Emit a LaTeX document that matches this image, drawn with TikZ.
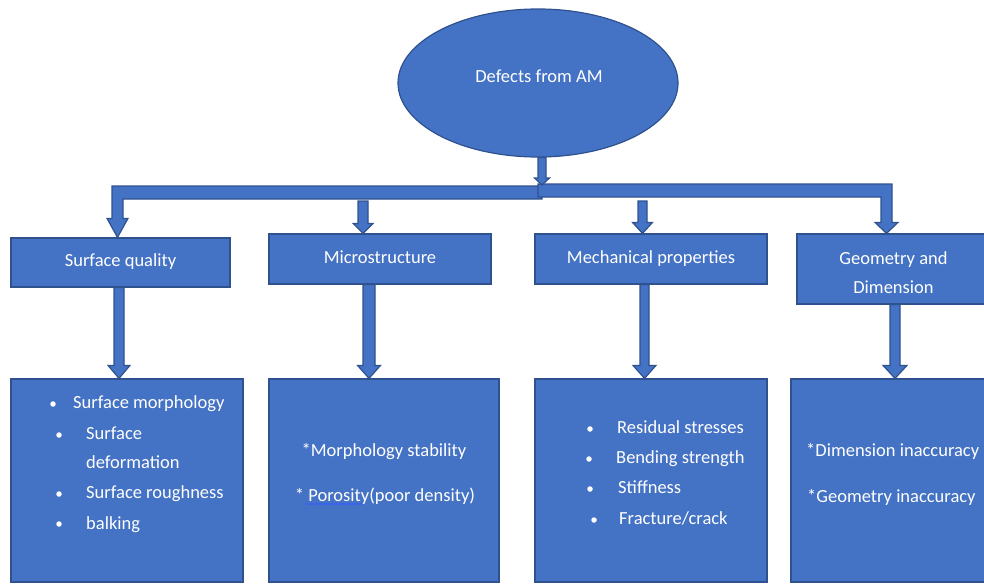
\documentclass[tikz,border=0pt]{standalone}
\usepackage{fontspec}
\setmainfont{Carlito}
\usetikzlibrary{shapes.geometric,calc}

\definecolor{boxfill}{HTML}{4472C4}
\definecolor{boxline}{HTML}{2F528F}
\definecolor{spellblue}{RGB}{60,100,235}

% straight block arrow pointing down: x centre, start, end, shaft half-width, head half-width, head length
\newcommand{\blockdown}[6]{%
  \draw[blk] let \p1=(#2), \p2=(#3) in
    (#1pt-#4pt,\y1) -- (#1pt+#4pt,\y1) -- (#1pt+#4pt,\y2+#6pt) -- (#1pt+#5pt,\y2+#6pt)
    -- (#1pt,\y2) -- (#1pt-#5pt,\y2+#6pt) -- (#1pt-#4pt,\y2+#6pt) -- cycle;}

\begin{document}
\begin{tikzpicture}[x=1pt,y=-1pt,
  font=\fontsize{18.5}{29}\selectfont,
  blk/.style={fill=boxfill,draw=boxline,line width=1.2pt,line join=miter},
  catbox/.style={rectangle,fill=boxfill,draw=boxline,line width=1.2pt,text=white,
    inner sep=0pt,text height=12pt,text depth=4pt,align=center},
  listbox/.style={rectangle,fill=boxfill,draw=boxline,line width=1.2pt,inner sep=0pt},
  txt/.style={text=white,inner sep=0pt},
  dot/.style={circle,fill=white,inner sep=0pt,minimum size=5.5pt}]
\useasboundingbox (0,0) rectangle (984,583);

% root
\node[ellipse,fill=boxfill,draw=boxline,line width=1.2pt,minimum width=280pt,minimum height=148pt,inner sep=0pt] (root) at (538,83) {};
\node[txt,anchor=base] (rootlabel) at (539,83) {Defects from AM};

% categories
\node[catbox,minimum width=219pt,minimum height=49pt] (sq) at (120.5,262.5) {Surface quality};
\node[catbox,minimum width=222pt,minimum height=50pt] (ms) at (380,259) {Microstructure};
\node[catbox,minimum width=232pt,minimum height=50pt] (mp) at (651,259) {Mechanical properties};
\node[catbox,minimum width=193pt,minimum height=70pt,text height=52pt] (gd) at (893.5,269) {Geometry and\\Dimension};

% detail boxes
\node[listbox,minimum width=232pt,minimum height=203pt] (b1) at (127,480.5) {};
\node[listbox,minimum width=230pt,minimum height=203pt] (b2) at (384,480.5) {};
\node[listbox,minimum width=232pt,minimum height=203pt] (b3) at (651,480.5) {};
\node[listbox,minimum width=234pt,minimum height=203pt] (b4) at (908,480.5) {};

% surface quality items
\node[dot] (d11) at (53,404) {};
\node[txt,anchor=base west] (t11) at (73,408) {Surface morphology};
\node[dot] (d12) at (59,435) {};
\node[txt,anchor=base west] (t12) at (86,439) {Surface};
\node[txt,anchor=base west] (t12b) at (86,468) {deformation};
\node[dot] (d13) at (59,494) {};
\node[txt,anchor=base west] (t13) at (86,498) {Surface roughness};
\node[dot] (d14) at (59,524) {};
\node[txt,anchor=base west] (t14) at (86,529) {balking};

% microstructure items
\node[txt,anchor=base] (t21) at (384,456) {*Morphology stability};
\node[txt,anchor=base] (t22) at (385,501) {* Porosity(poor density)};
\draw[spellblue,line width=1.3pt] (306,504) -- (362,504);

% mechanical property items
\node[dot] (d31) at (590,429) {};
\node[txt,anchor=base west] (t31) at (617,433) {Residual stresses};
\node[dot] (d32) at (589,459) {};
\node[txt,anchor=base west] (t32) at (616,463) {Bending strength};
\node[dot] (d33) at (590,489) {};
\node[txt,anchor=base west] (t33) at (618,493) {Stiffness};
\node[dot] (d34) at (594,520) {};
\node[txt,anchor=base west] (t34) at (619,524) {Fracture/crack};

% geometry items
\node[txt,anchor=base west] (t41) at (806,456) {*Dimension inaccuracy};
\node[txt,anchor=base west] (t42) at (807,502) {*Geometry inaccuracy};

% branch points on the distribution bars
\coordinate (split) at (542,185);
\coordinate (barbelow) at (500,201);

% left branch bar towards surface quality
\draw[blk] let \p2=(sq.north) in
  (542pt,-186pt) -- (112pt,-186pt) -- (112pt,\y2+19pt) -- (107pt,\y2+19pt) -- (117.5pt,\y2)
  -- (128pt,\y2+19pt) -- (123pt,\y2+19pt) -- (123pt,-199pt) -- (542pt,-199pt) -- cycle;
% right branch bar towards geometry and dimension
\draw[blk] let \p2=(gd.north) in
  (538pt,-184pt) -- (892pt,-184pt) -- (892pt,\y2+11pt) -- (898pt,\y2+11pt) -- (886.5pt,\y2)
  -- (875pt,\y2+11pt) -- (881pt,\y2+11pt) -- (881pt,-197pt) -- (538pt,-197pt) -- cycle;

% short drops from the bar
\blockdown{363}{barbelow}{ms.north}{5}{10}{10}
\blockdown{642.5}{barbelow}{mp.north}{4.5}{10}{11}

% root to bar
\blockdown{542}{root.south}{split}{4}{7.5}{7}

% categories to detail boxes
\blockdown{119}{sq.south}{b1.north}{5}{11}{13}
\blockdown{369}{ms.south}{b2.north}{6}{11.5}{13}
\blockdown{644.5}{mp.south}{b3.north}{4.5}{11.5}{13}
\blockdown{895}{gd.south}{b4.north}{5}{12}{13}
\end{tikzpicture}
\end{document}
